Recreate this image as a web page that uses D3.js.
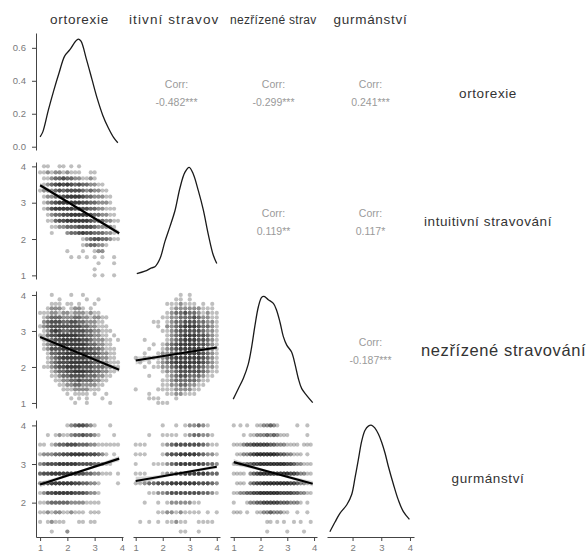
<!DOCTYPE html>
<html>
<head>
<meta charset="utf-8">
<script src="https://cdn.jsdelivr.net/npm/d3@7"></script>
<style>
  body { margin: 0; background: #fff; }
  text { font-family: "Liberation Sans", Arial, sans-serif; }
</style>
</head>
<body>
<div id="chart"></div>
<script>
// variables in the pairs plot
var variables = ["ortorexie", "intuitivní stravování", "nezřízené stravování", "gurmánství"];
// top strip labels as they show, cut to the column width
var topLabels = ["ortorexie", "itivní stravov", "nezřízené strav", "gurmánství"];
// answer steps of each scale (1/7, 1/6, 1/8, 1/4)
var steps = [7, 6, 8, 4];

// correlations, upper triangle: [row, col, label]
var corrCells = [[0, 1, "-0.482***"], [0, 2, "-0.299***"], [0, 3, "0.241***"],
                 [1, 2, "0.119**"], [1, 3, "0.117*"], [2, 3, "-0.187***"]];

// diagonal densities
var densOrtX = [1.0, 1.1, 1.3, 1.5, 1.7, 1.9, 2.1, 2.3, 2.4, 2.5, 2.7, 2.9, 3.1, 3.3, 3.5, 3.7, 3.85];
var densOrtY = [0.06, 0.09, 0.22, 0.34, 0.45, 0.55, 0.59, 0.64, 0.653, 0.64, 0.53, 0.41, 0.29, 0.19, 0.115, 0.055, 0.024];
var densIntuX = [1.04, 1.34, 1.59, 1.71, 1.9, 2.08, 2.27, 2.45, 2.64, 2.82, 2.98, 3.13, 3.32, 3.5, 3.69, 3.87, 4.0];
var densIntuY = [0.02, 0.037, 0.06, 0.067, 0.124, 0.24, 0.345, 0.45, 0.61, 0.715, 0.75, 0.704, 0.588, 0.46, 0.287, 0.148, 0.09];
var densNezX = [0.98, 1.17, 1.36, 1.54, 1.67, 1.79, 1.92, 2.04, 2.13, 2.29, 2.48, 2.6, 2.73, 2.85, 2.98, 3.16, 3.29, 3.41, 3.54, 3.73, 3.95];
var densNezY = [0.041, 0.103, 0.165, 0.247, 0.351, 0.475, 0.588, 0.644, 0.65, 0.63, 0.608, 0.568, 0.495, 0.413, 0.361, 0.32, 0.247, 0.165, 0.103, 0.062, 0.02];
var densGurX = [1.21, 1.39, 1.56, 1.8, 1.97, 2.09, 2.2, 2.32, 2.43, 2.55, 2.67, 2.78, 2.9, 3.02, 3.13, 3.25, 3.42, 3.59, 3.77, 3.98];
var densGurY = [0.02, 0.082, 0.137, 0.192, 0.258, 0.369, 0.479, 0.6, 0.667, 0.695, 0.7, 0.682, 0.644, 0.589, 0.523, 0.435, 0.325, 0.225, 0.148, 0.099];

// scatter counts: one string per y level (4 at top, going down), one digit per x level (from 1)
var gridIntuOrt = [
  "0110011010100000000000", "1121221211100110000000", "0112334332211210000000",
  "0123454543433221100000", "1222343444432322110000", "0122334555543322211000",
  "0123455555544332221000", "0124555554544332211100", "0012334455555433221100",
  "0011344555555433322110", "0001122333444432222100", "0001000233454433322100",
  "0000000000012344332110", "0000000000012332210000", "0000000100010012200000",
  "0000000010101010100100", "0000000000000001000100", "0000000000000010000000",
  "0000000000000010100100"];
var gridNezOrt = [
  "0001000010010000000000", "0000010000001001000000", "0001110110100010000000",
  "0012221012210100000000", "1112212212221211000000", "0123332223322122110000",
  "0234443344332221100000", "1234444444433221110000", "0124543344443322111000",
  "1134455555443322110100", "0123445555544322211010", "0123455555554332211000",
  "0124445555554433211100", "0013344555555443221100", "0012345555554433221100",
  "0012344455555433221110", "0112344555544433322110", "0001233445554433221100",
  "0001123344443332211000", "0000112233433322110000", "0000011223322221100000",
  "0000001112222111000000", "0000000101111010010000", "0000000010101000100000",
  "0000000001001000001000"];
var gridNezIntu = [
  "0000000000101000000", "0000000001101000000", "0000000111211101010",
  "0000000012222221110", "0000000123343321211", "0000001122333432211",
  "0000110123344433221", "0000010223455543321", "0000001123444443221",
  "0000000123455544321", "0010000123455544321", "0000101234555544321",
  "0001001234555554321", "0010012234555554321", "1011112345555554321",
  "0101012345555554321", "0010112234555443221", "0000001223444443211",
  "0001000123443332110", "0000001123333321100", "0000001122332211000",
  "1000011112222110000", "0001000112211100000", "0001110001000000000",
  "0000011100000000000"];
var gridGurOrt = [
  "0000000123443210001000", "0010121123343321000100", "1101233444333221111110",
  "1222334455554443210100", "2344455555444433211000", "3445555555443322111010",
  "2345555554433221000010", "1244555554443221000000", "1123333322221111000000",
  "1121221121110111000000", "1012111000110110000000", "0001000200000000000000",
  "0000000000000000000000"];
var gridGurIntu = [
  "0000001001012232100", "0001001111012332210", "1110001234444443211",
  "1110001344555543221", "1000111234555554332", "1110001223455555433",
  "1123344455555544432", "0001122344444443321", "0010010122222110000",
  "0000011221211110101", "0101010112110011110", "0000000000110010000",
  "0000000000000000000"];
var gridGurNez = [
  "1010100112232100000100100", "0001011222323211100000100", "1112334444433222111101110",
  "0112234555555433221110100", "1122334455555555443221110", "1111023455555555544322110",
  "0111023445555555544322100", "1122334455555544443322110", "1000122334444433322210100",
  "1110100112232221100100100", "0000000000110101001010010", "0000000000100000100001000",
  "0000000000000000000000000"];

// lower panels: [row, col, grid]
var lowerCells = [[1, 0, gridIntuOrt], [2, 0, gridNezOrt], [2, 1, gridNezIntu],
                  [3, 0, gridGurOrt], [3, 1, gridGurIntu], [3, 2, gridGurNez]];
// fitted lines [x0, y0, x1, y1] and band half widths [left, mid, right]
var fitLines = [[1.0, 3.48, 3.9, 2.16], [1.0, 2.83, 3.9, 1.92], [1.0, 2.18, 4.0, 2.54],
                [1.0, 2.47, 3.9, 3.14], [1.0, 2.56, 4.0, 2.93], [1.0, 3.05, 3.95, 2.49]];
var fitBands = [[0.07, 0.03, 0.07], [0.08, 0.03, 0.07], [0.11, 0.03, 0.05],
                [0.07, 0.03, 0.07], [0.11, 0.03, 0.05], [0.08, 0.03, 0.07]];

var W = 588, H = 554;
var colX = [36, 133, 230, 327], rowY = [33, 162, 291, 420];
var pw = 87, ph = 117;
var domains = [[0.85, 4.04], [0.9, 4.12], [0.86, 4.11], [1.11, 4.14]];

var svg = d3.select("#chart").append("svg").attr("width", W).attr("height", H);

function xScale(c) { return d3.scaleLinear().domain(domains[c]).range([colX[c], colX[c] + pw]); }
function yScale(r) { return d3.scaleLinear().domain(domains[r]).range([rowY[r] + ph, rowY[r]]); }

// lower triangle scatter
lowerCells.forEach(function (cell, n) {
  var r = cell[0], c = cell[1], grid = cell[2];
  var x = xScale(c), y = yScale(r);
  var pts = [];
  grid.forEach(function (row, j) {
    for (var i = 0; i < row.length; i++) {
      var k = +row[i];
      for (var m = 0; m < k; m++) pts.push({x: 1 + i / steps[c], y: 4 - j / steps[r]});
    }
  });
  var g = svg.append("g");
  g.selectAll("circle").data(pts).enter().append("circle")
    .attr("cx", function (d) { return x(d.x); })
    .attr("cy", function (d) { return y(d.y); })
    .attr("r", 2.1)
    .attr("fill", "#000")
    .attr("fill-opacity", 0.25);

  var f = fitLines[n], b = fitBands[n];
  var band = d3.range(0, 1.0001, 0.05).map(function (t) {
    var hw = t < 0.5 ? b[1] + (b[0] - b[1]) * Math.pow(1 - 2 * t, 2) : b[1] + (b[2] - b[1]) * Math.pow(2 * t - 1, 2);
    var xv = f[0] + t * (f[2] - f[0]), yv = f[1] + t * (f[3] - f[1]);
    return {x: xv, lo: yv - hw, hi: yv + hw};
  });
  g.append("path")
    .attr("d", d3.area().x(function (d) { return x(d.x); })
      .y0(function (d) { return y(d.lo); }).y1(function (d) { return y(d.hi); })(band))
    .attr("fill", "#999").attr("fill-opacity", 0.4);
  g.append("line")
    .attr("x1", x(f[0])).attr("y1", y(f[1]))
    .attr("x2", x(f[2])).attr("y2", y(f[3]))
    .attr("stroke", "#000").attr("stroke-width", 2.2);
});

// diagonal densities
var densX = [densOrtX, densIntuX, densNezX, densGurX];
var densY = [densOrtY, densIntuY, densNezY, densGurY];
densX.forEach(function (xs, c) {
  var ysd = densY[c];
  var x = xScale(c);
  var ext = d3.extent(ysd), pad = (ext[1] - ext[0]) * 0.05;
  var dom = c === 0 ? [-0.02, 0.69] : [ext[0] - pad, ext[1] + pad];
  var y = d3.scaleLinear().domain(dom).range([rowY[c] + ph, rowY[c]]);
  var pts = xs.map(function (v, i) { return [v, ysd[i]]; });
  svg.append("path")
    .attr("d", d3.line().x(function (d) { return x(d[0]); }).y(function (d) { return y(d[1]); })
      .curve(d3.curveCatmullRom)(pts))
    .attr("fill", "none").attr("stroke", "#1a1a1a").attr("stroke-width", 1.3);
});

// correlations
corrCells.forEach(function (cc) {
  var cx = colX[cc[1]] + pw / 2, top = rowY[cc[0]];
  var t = svg.append("text").attr("text-anchor", "middle").attr("fill", "#9a9a9a").style("font-size", "10.5px");
  t.append("tspan").attr("x", cx).attr("y", top + 55).text("Corr:");
  t.append("tspan").attr("x", cx).attr("y", top + 72.5).text(cc[2]);
});

// axes
function styleAxis(g) {
  g.select(".domain").attr("stroke", "#444");
  g.selectAll(".tick line").attr("stroke", "#444");
  g.selectAll(".tick text").attr("fill", "#7a7a7a").style("font-size", "9.5px")
    .style("font-family", "'Liberation Sans', Arial, sans-serif");
}
for (var r = 0; r < 4; r++) {
  var ay = r === 0 ? d3.scaleLinear().domain([-0.02, 0.69]).range([rowY[0] + ph, rowY[0]]) : yScale(r);
  var ticks = r === 0 ? [0, 0.2, 0.4, 0.6] : [1, 2, 3, 4].filter(function (v) { return v >= domains[r][0] && v <= domains[r][1]; });
  svg.append("g").attr("transform", "translate(" + colX[0] + ",0)")
    .call(d3.axisLeft(ay).tickValues(ticks).tickSize(4).tickPadding(6).tickSizeOuter(0)
      .tickFormat(r === 0 ? d3.format(".1f") : d3.format("d")))
    .call(styleAxis);
}
for (var c = 0; c < 4; c++) {
  var ax = xScale(c);
  var xt = [1, 2, 3, 4].filter(function (v) { return v >= domains[c][0] && v <= domains[c][1]; });
  svg.append("g").attr("transform", "translate(0," + (rowY[3] + ph) + ")")
    .call(d3.axisBottom(ax).tickValues(xt).tickSize(4).tickPadding(3).tickSizeOuter(0).tickFormat(d3.format("d")))
    .call(styleAxis);
}

// strip labels on top
var topSize = [13.5, 13.5, 12, 13.5];
var topSpacing = [0.7, 1.1, 0.3, 0.7];
topLabels.forEach(function (v, c) {
  var t = svg.append("text").attr("y", 24).attr("fill", "#333")
    .style("font-size", topSize[c] + "px").style("letter-spacing", topSpacing[c] + "px").text(v);
  if (c === 1) t.attr("x", colX[c] - 4);
  else if (c === 2) t.attr("x", colX[c]);
  else t.attr("x", colX[c] + pw / 2).attr("text-anchor", "middle");
});

// strip labels on the right
var rightSize = [13.5, 13.5, 16.5, 13.5];
var rightBase = [98, 226, 356, 483];
variables.forEach(function (v, r) {
  var t = svg.append("text").attr("y", rightBase[r]).attr("fill", "#333")
    .style("font-size", rightSize[r] + "px").style("letter-spacing", "0.6px").text(v);
  if (r === 2) t.attr("x", 421);
  else t.attr("x", 488).attr("text-anchor", "middle");
});
</script>
</body>
</html>
